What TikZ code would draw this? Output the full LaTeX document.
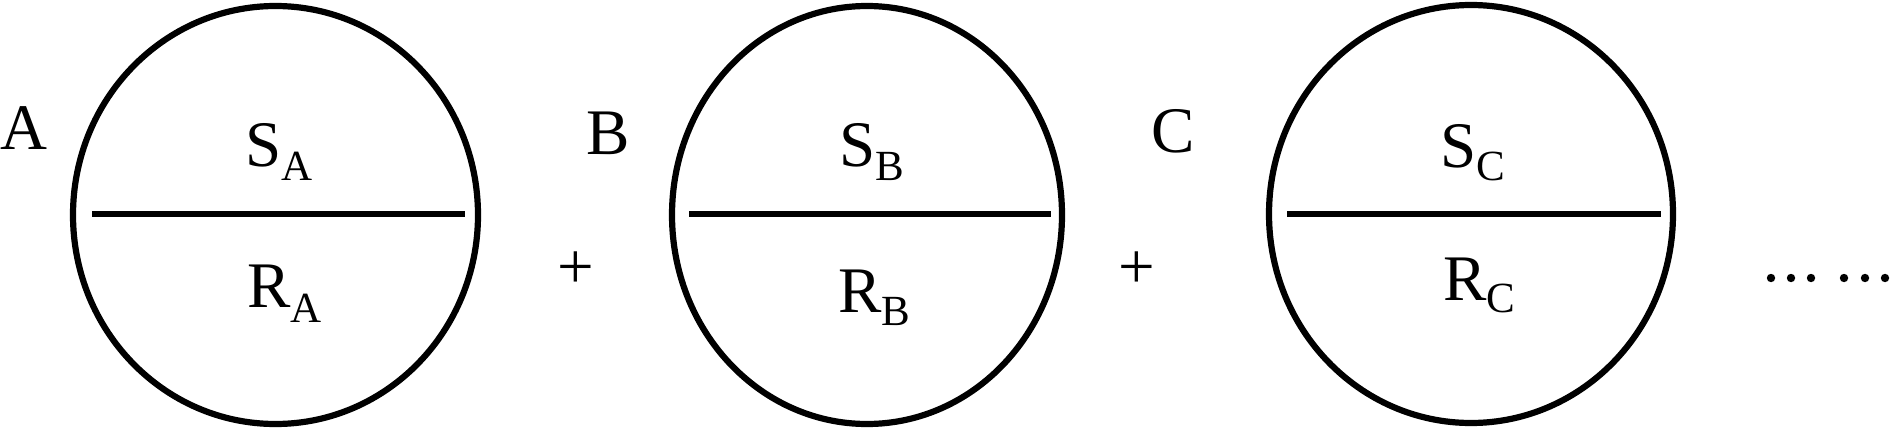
\documentclass[tikz,border=0pt]{standalone}
\usepackage{fontspec}
\setmainfont{Liberation Serif}
\newcommand{\labsr}[3]{{\fontsize{65}{65}\selectfont #1\raisebox{-#3pt}{\fontsize{43}{43}\selectfont #2}}}
\begin{document}
\begin{tikzpicture}[x=1pt,y=-1pt,
  ring/.style={line width=6.2pt},
  divider/.style={line width=6.8pt},
  lab/.style={inner sep=0pt,anchor=base west},
  bigtxt/.style={inner sep=0pt,font=\fontsize{65}{65}\selectfont},
  dot/.style={fill=black}]
\useasboundingbox (0,0) rectangle (1890,428);
% circles
\draw[ring] (275.5,215) ellipse [x radius=202.5, y radius=209];
\draw[ring] (867,215) ellipse [x radius=195, y radius=209];
\draw[ring] (1471,214) ellipse [x radius=202, y radius=209];
% dividers
\draw[divider] (92,214) -- (465,214);
\draw[divider] (689,214) -- (1051,214);
\draw[divider] (1287,214) -- (1661,214);
% outer labels
\node[lab,bigtxt] (la) at (0,149) {A};
\node[lab,bigtxt] (lb) at (586,154) {B};
\node[lab,bigtxt] (lc) at (1151,152) {C};
% inner labels
\node[lab] (sa) at (245.5,166) {\labsr{S}{A}{14}};
\node[lab] (ra) at (247,307) {\labsr{R}{A}{15}};
\node[lab] (sb) at (839.5,166) {\labsr{S}{B}{14}};
\node[lab] (rb) at (838,312) {\labsr{R}{B}{13}};
\node[lab] (sc) at (1440.5,167) {\labsr{S}{C}{13}};
\node[lab] (rc) at (1443,300) {\labsr{R}{C}{12}};
% plus signs
\node[bigtxt,anchor=center] (p1) at (576,270) {+};
\node[bigtxt,anchor=center] (p2) at (1137,270) {+};
% dots
\foreach \xx in {1771,1791,1811,1844,1865,1885}
  \fill[dot] (\xx,278) circle (4.2pt);
\end{tikzpicture}
\end{document}
